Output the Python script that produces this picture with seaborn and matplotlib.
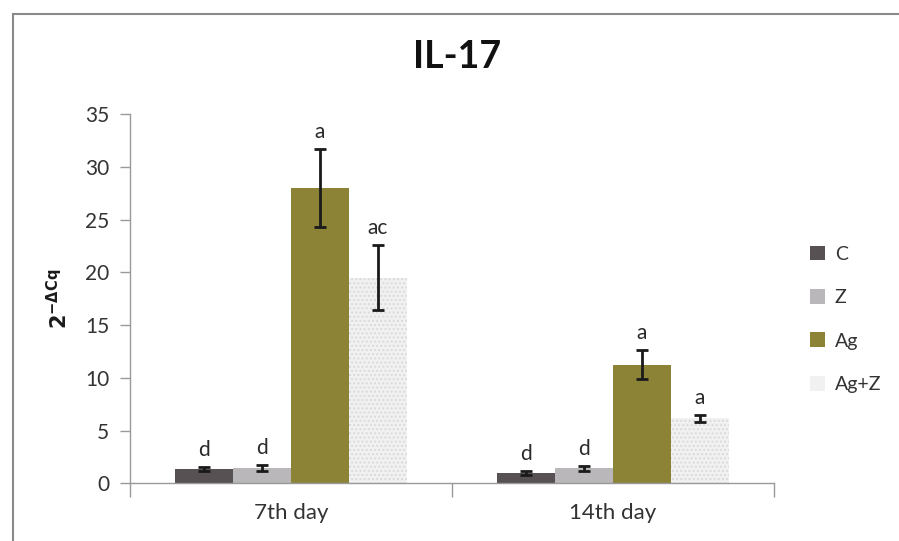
import numpy as np
import pandas as pd
import matplotlib
matplotlib.use("Agg")
import matplotlib.pyplot as plt
from matplotlib.patches import Patch, Rectangle
import seaborn as sns

days = ["7th day", "14th day"]
groups = ["C", "Z", "Ag", "Ag+Z"]
means_7 = [1.35, 1.45, 28.0, 19.5]
errs_7 = [0.2, 0.3, 3.7, 3.1]
means_14 = [0.95, 1.42, 11.25, 6.15]
errs_14 = [0.2, 0.25, 1.35, 0.37]
letters_7 = ["d", "d", "a", "ac"]
letters_14 = ["d", "d", "a", "a"]
yticks = [0, 5, 10, 15, 20, 25, 30, 35]

colors = {"C": "#575153", "Z": "#b9b7b9", "Ag": "#8c8337", "Ag+Z": "#f1f1f1"}

sns.set_theme(style="white")
plt.rcParams["font.family"] = ["Lato", "DejaVu Sans"]

df = pd.DataFrame({
    "day": [d for d in days for _ in groups],
    "group": groups * 2,
    "value": means_7 + means_14,
    "err": errs_7 + errs_14,
    "letter": letters_7 + letters_14,
})

fig = plt.figure(figsize=(8.99, 5.41), dpi=100)
ax = fig.add_axes([130 / 899, 1 - 483.3 / 541, (774 - 130) / 899, (483.3 - 114) / 541])

sns.barplot(data=df, x="day", y="value", hue="group", hue_order=groups,
            order=days, palette=colors, width=0.72, errorbar=None,
            saturation=1, linewidth=0, ax=ax, legend=False)
bar_containers = list(ax.containers)

# speckled fill for the combined treatment
for bar in bar_containers[3]:
    bar.set_hatch("....")
    bar.set_edgecolor("#dadada")
    bar.set_linewidth(0)

# error bars and significance letters
for gi, cont in enumerate(bar_containers):
    for di, bar in enumerate(cont):
        row = df[(df.group == groups[gi]) & (df.day == days[di])].iloc[0]
        xc = bar.get_x() + bar.get_width() / 2
        ax.errorbar(xc, row.value, yerr=row.err, fmt="none", ecolor="#1a1a1a",
                    elinewidth=2, capsize=4, capthick=2, zorder=5)
        ax.annotate(row.letter, (xc, row.value + row.err), xytext=(0, 5),
                    textcoords="offset points", ha="center", va="bottom",
                    fontsize=15, color="#2a2a2a")

ax.set_ylim(0, 35)
ax.set_xlim(-0.5, 1.5)
ax.set_yticks(yticks)
ax.set_yticklabels([str(t) for t in yticks], fontsize=15, color="#333333")
ax.tick_params(axis="y", which="both", left=True, length=7, width=1,
               color="#999999", pad=8)
ax.set_xticks([0, 1])
ax.set_xticklabels(days, fontsize=16, color="#333333")
ax.tick_params(axis="x", length=0, pad=14)
ax.set_xticks([-0.5, 0.5, 1.5], minor=True)
ax.tick_params(axis="x", which="minor", bottom=True, length=10, width=1,
               color="#999999")
for s in ["top", "right"]:
    ax.spines[s].set_visible(False)
for s in ["left", "bottom"]:
    ax.spines[s].set_color("#999999")
    ax.spines[s].set_linewidth(1)
ax.set_xlabel("")
ax.set_ylabel(r"$\mathbf{2^{-\Delta Cq}}$", fontsize=15, color="#1a1a1a", labelpad=10)

fig.text(457 / 899, 1 - 57 / 541, "IL-17", ha="center", va="center",
         fontsize=27, fontweight="bold", color="#111111")

handles = [Patch(facecolor=colors[g], edgecolor="none") for g in groups]
leg = fig.legend(handles, groups, loc="upper left",
                 bbox_to_anchor=(792 / 899, 1 - 228 / 541), frameon=False,
                 fontsize=14, handlelength=0.8, handleheight=0.8,
                 labelspacing=1.35, handletextpad=0.5)
for t in leg.get_texts():
    t.set_color("#333333")

# chart frame
fig.patches.append(Rectangle((13 / 899, -0.05), 1.0, 1 - 14 / 541 + 0.05,
                             transform=fig.transFigure, fill=False,
                             edgecolor="#8a8a8a", linewidth=1.5))

fig.savefig("out.png", dpi=100)
